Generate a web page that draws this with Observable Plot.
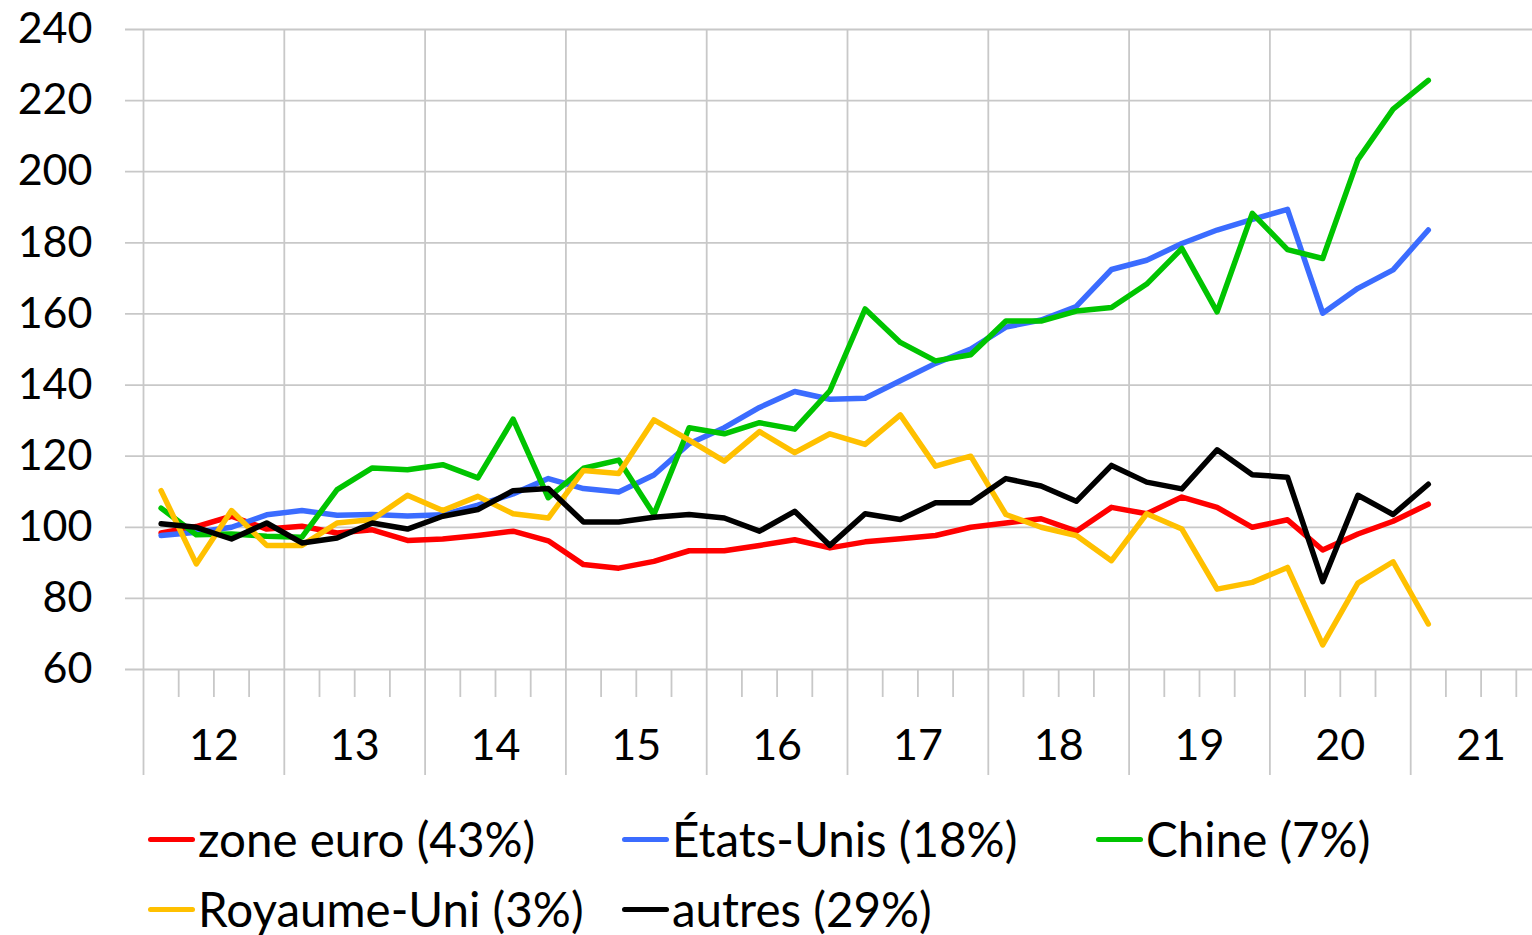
<!DOCTYPE html>
<html>
<head>
<meta charset="utf-8">
<script src="https://cdn.jsdelivr.net/npm/d3@7"></script>
<script src="https://cdn.jsdelivr.net/npm/@observablehq/plot@0.6"></script>
<style>
  html, body { margin: 0; padding: 0; background: #fff; }
  #chart svg { display: block; }
  #legend {
    font-family: Lato, "Open Sans", sans-serif;
    font-size: 47.5px;
    color: #000;
    padding-left: 148px;
    padding-top: 4px;
    display: grid;
    grid-template-columns: 474px 474px 474px;
  }
  .item { height: 70px; line-height: 70px; white-space: nowrap; display: flex; align-items: center; }
  .sw { display: inline-block; width: 47px; height: 5px; border-radius: 3px; margin-right: 3px; }
</style>
</head>
<body>
<div id="chart"></div>
<div id="legend"></div>
<script>
// ---- data (quarterly, 2012Q1 .. 2021Q1) ----
const yearLabels = ["12", "13", "14", "15", "16", "17", "18", "19", "20", "21"];
const seriesNames = ["zone euro (43%)", "États-Unis (18%)", "Chine (7%)", "Royaume-Uni (3%)", "autres (29%)"];
const seriesColors = ["#ff0000", "#3b6cff", "#00c400", "#ffc000", "#000000"];
const yTicks = [60, 80, 100, 120, 140, 160, 180, 200, 220, 240];

const zoneEuro = [98.4, 100.2, 103.1, 99.5, 100.3, 98.4, 99.3, 96.3, 96.7, 97.7, 98.9, 96.2, 89.5, 88.5, 90.4, 93.4, 93.4, 94.9, 96.5, 94.2, 95.9, 96.8, 97.7, 100.0, 101.2, 102.4, 98.9, 105.6, 103.8, 108.5, 105.6, 100.0, 102.1, 93.6, 98.1, 101.7, 106.5];
const etatsUnis = [97.7, 98.6, 100.0, 103.5, 104.7, 103.4, 103.6, 103.2, 103.5, 106.2, 109.4, 113.7, 110.9, 109.9, 114.7, 123.5, 128.0, 133.7, 138.2, 136.0, 136.3, 141.2, 146.1, 150.1, 156.3, 158.3, 162.1, 172.5, 175.1, 179.8, 183.6, 186.6, 189.4, 160.2, 167.2, 172.4, 183.6];
const chine = [105.4, 97.9, 98.1, 97.5, 97.2, 110.6, 116.7, 116.2, 117.6, 113.9, 130.4, 108.3, 116.6, 118.9, 103.6, 128.0, 126.3, 129.4, 127.6, 138.4, 161.4, 152.0, 146.8, 148.5, 158.0, 158.0, 160.8, 161.8, 168.4, 178.4, 160.6, 188.3, 178.1, 175.6, 203.4, 217.6, 225.7];
const royaumeUni = [110.3, 89.7, 104.7, 94.9, 94.9, 101.2, 102.2, 109.0, 104.7, 108.7, 103.8, 102.6, 116.0, 115.1, 130.2, 124.5, 118.6, 126.9, 121.0, 126.3, 123.3, 131.6, 117.2, 120.0, 103.6, 100.0, 97.7, 90.6, 103.8, 99.5, 82.6, 84.5, 88.7, 66.9, 84.3, 90.3, 72.8];
const autres = [101.0, 100.0, 96.7, 101.2, 95.6, 97.0, 101.2, 99.5, 103.1, 105.0, 110.3, 110.9, 101.5, 101.5, 102.8, 103.6, 102.6, 98.9, 104.5, 94.9, 103.8, 102.2, 106.9, 106.9, 113.7, 111.6, 107.3, 117.4, 112.7, 110.8, 121.8, 114.8, 114.1, 84.7, 109.0, 103.6, 112.1];

const seriesValues = [zoneEuro, etatsUnis, chine, royaumeUni, autres];
const data = [];
seriesValues.forEach((vals, s) => vals.forEach((v, i) => data.push({series: seriesNames[s], t: i, value: v})));

// quarter index t: data at quarter centres, year k spans [4k-0.5, 4k+3.5]
const yearBoundaries = yearLabels.map((_, k) => 4 * k - 0.5);
const yearCenters = yearLabels.map((_, k) => 4 * k + 1.5);
const quarterTicks = d3.range(-0.5, 39.5, 1).filter(t => (t + 0.5) % 4 !== 0);

const grid = "#c8c8c8";

const chart = Plot.plot({
  width: 1532,
  height: 800,
  marginLeft: 125,
  marginRight: 0,
  marginTop: 29,
  marginBottom: 131,
  style: {fontFamily: "Lato, 'Open Sans', sans-serif", fontSize: "43px", color: "#000", background: "#fff"},
  x: {type: "linear", domain: [-0.5, 39.5], range: [143, 1551], axis: null, label: null},
  y: {domain: [60, 240], axis: null, label: null},
  color: {domain: seriesNames, range: seriesColors},
  marks: [
    Plot.ruleY(yTicks, {stroke: grid, strokeWidth: 1.8}),
    Plot.gridX(yearBoundaries, {stroke: grid, strokeWidth: 1.8, strokeOpacity: 1}),
    Plot.axisX(yearBoundaries, {anchor: "bottom", label: null, tickSize: 106, stroke: grid, strokeWidth: 1.8, strokeOpacity: 1, tickFormat: () => ""}),
    Plot.axisX(quarterTicks, {anchor: "bottom", label: null, tickSize: 28, stroke: grid, strokeWidth: 1.8, strokeOpacity: 1, tickFormat: () => ""}),
    Plot.axisX(yearCenters, {anchor: "bottom", label: null, tickSize: 0, tickPadding: 60, fill: "#000", tickFormat: t => yearLabels[Math.round((t - 1.5) / 4)]}),
    Plot.axisY(yTicks, {anchor: "left", label: null, tickSize: 0, tickPadding: 33, fill: "#000"}),
    Plot.lineY(data, {x: "t", y: "value", z: "series", stroke: "series", strokeWidth: 5.5, strokeLinejoin: "round", strokeLinecap: "round"})
  ]
});
document.getElementById("chart").appendChild(chart);

const legend = document.getElementById("legend");
seriesNames.forEach((name, s) => {
  const it = document.createElement("div");
  it.className = "item";
  const sw = document.createElement("span");
  sw.className = "sw";
  sw.style.background = seriesColors[s];
  it.appendChild(sw);
  const tx = document.createElement("span");
  tx.textContent = name;
  it.appendChild(tx);
  legend.appendChild(it);
});
</script>
</body>
</html>
